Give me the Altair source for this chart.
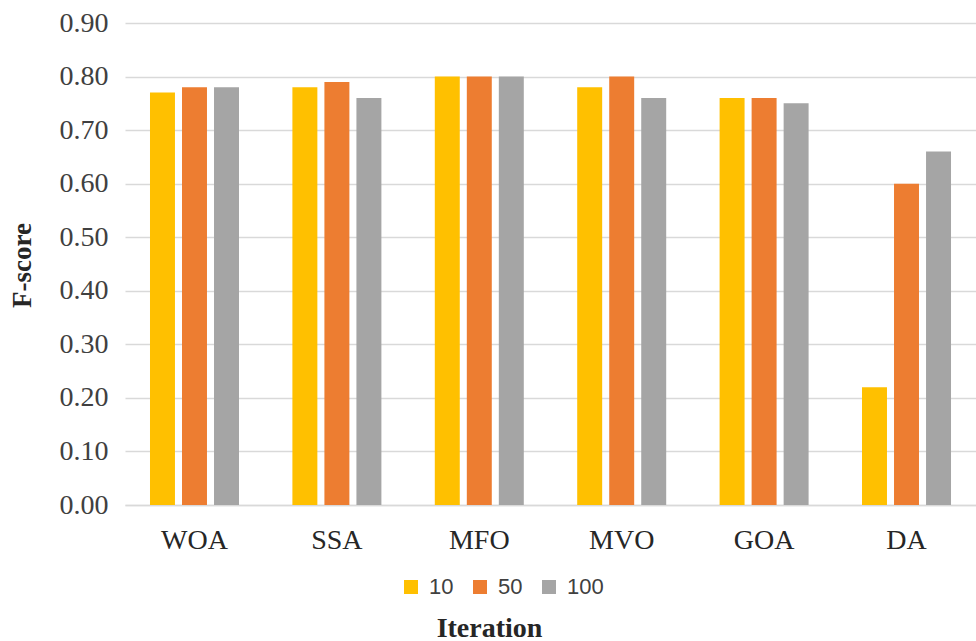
import altair as alt
import pandas as pd

# Metaheuristic algorithms compared, and the iteration counts tested
algorithms = ["WOA", "SSA", "MFO", "MVO", "GOA", "DA"]
iterations = ["10", "50", "100"]

# F-score per algorithm for each iteration count
fscore_10 = [0.77, 0.78, 0.80, 0.78, 0.76, 0.22]
fscore_50 = [0.78, 0.79, 0.80, 0.80, 0.76, 0.60]
fscore_100 = [0.78, 0.76, 0.80, 0.76, 0.75, 0.66]

y_ticks = [0.0, 0.1, 0.2, 0.3, 0.4, 0.5, 0.6, 0.7, 0.8, 0.9]
series_colors = ["#FFC000", "#ED7D31", "#A5A5A5"]

rows = []
for it, vals in zip(iterations, [fscore_10, fscore_50, fscore_100]):
    for alg, v in zip(algorithms, vals):
        rows.append({"Algorithm": alg, "Iteration": it, "F-score": v})
df = pd.DataFrame(rows)

serif = "Liberation Serif"
sans = "Liberation Sans"
grid_color = "#D9D9D9"

chart = (
    alt.Chart(df)
    .mark_bar()
    .encode(
        x=alt.X(
            "Algorithm:N",
            sort=algorithms,
            scale=alt.Scale(paddingInner=0.375, paddingOuter=0.1755),
            axis=alt.Axis(
                title="Iteration",
                labelAngle=0,
                labelFont=serif,
                labelFontSize=28,
                labelColor="#262626",
                labelPadding=21,
                ticks=False,
                grid=False,
                domain=True,
                domainColor=grid_color,
                domainWidth=1.3,
                titleFont=serif,
                titleFontSize=28,
                titleFontWeight="bold",
                titleColor="#262626",
                titleX=364,
                titleY=131,
                titleAlign="center",
                titleBaseline="alphabetic",
            ),
        ),
        xOffset=alt.XOffset(
            "Iteration:N",
            sort=iterations,
            scale=alt.Scale(paddingInner=0.22, paddingOuter=0),
        ),
        y=alt.Y(
            "F-score:Q",
            scale=alt.Scale(domain=[0, 0.9], nice=False),
            axis=alt.Axis(
                title="F-score",
                values=y_ticks,
                format=".2f",
                labelFont=serif,
                labelFontSize=28,
                labelColor="#404040",
                labelPadding=17,
                ticks=False,
                domain=False,
                grid=True,
                gridColor=grid_color,
                gridWidth=1.3,
                titleFont=serif,
                titleFontSize=27,
                titleFontWeight="bold",
                titleColor="#262626",
                titleAngle=270,
                titleX=-95,
                titleY=242,
                titleAlign="center",
                titleBaseline="alphabetic",
            ),
        ),
        color=alt.Color(
            "Iteration:N",
            sort=iterations,
            scale=alt.Scale(domain=iterations, range=series_colors),
            legend=alt.Legend(
                title=None,
                orient="none",
                legendX=275,
                legendY=553,
                direction="horizontal",
                symbolType="square",
                symbolSize=196,
                symbolStrokeWidth=0,
                symbolOpacity=1,
                labelFont=sans,
                labelFontSize=22,
                labelColor="#404040",
                labelOffset=7,
                columnPadding=15,
            ),
        ),
    )
    .properties(
        width=851,
        height=482,
        autosize=alt.AutoSizeParams(type="none"),
        padding={"left": 125, "top": 23, "right": 0, "bottom": 136},
        background="white",
    )
    .configure_view(stroke=None)
)

chart.save("out.html", embed_options={"renderer": "svg", "actions": False})
